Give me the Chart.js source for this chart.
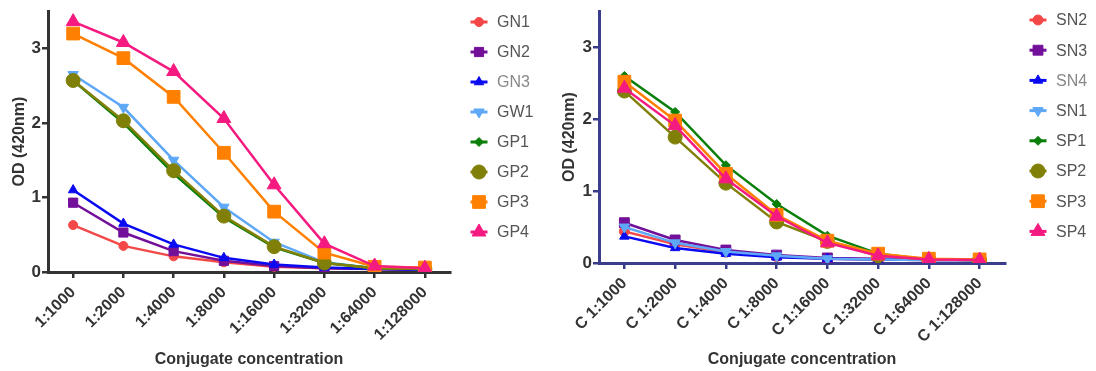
<!DOCTYPE html>
<html>
<head>
<meta charset="utf-8">
<script src="https://cdn.jsdelivr.net/npm/chart.js"></script>
<style>
  body { margin: 0; background: #fff; }
  .box { position: absolute; top: 0; height: 371px; }
  #left { left: 0; width: 550px; }
  #right { left: 550px; width: 546px; }
</style>
</head>
<body>
<div class="box" id="left"><canvas id="chartG"></canvas></div>
<div class="box" id="right"><canvas id="chartS"></canvas></div>
<script>
// dilutions
const gLabels = ["1:1000", "1:2000", "1:4000", "1:8000", "1:16000", "1:32000", "1:64000", "1:128000"];
const sLabels = ["C 1:1000", "C 1:2000", "C 1:4000", "C 1:8000", "C 1:16000", "C 1:32000", "C 1:64000", "C 1:128000"];
const yTicks = [0, 1, 2, 3];

// left panel (OD 420nm)
const GN1 = [0.63, 0.35, 0.21, 0.13, 0.07, 0.05, 0.04, 0.03];
const GN2 = [0.93, 0.53, 0.28, 0.15, 0.08, 0.05, 0.04, 0.03];
const GN3 = [1.10, 0.65, 0.37, 0.19, 0.10, 0.06, 0.04, 0.03];
const GW1 = [2.65, 2.21, 1.50, 0.87, 0.40, 0.13, 0.05, 0.04];
const GP1 = [2.57, 2.00, 1.32, 0.73, 0.33, 0.12, 0.05, 0.04];
const GP2 = [2.57, 2.03, 1.36, 0.75, 0.34, 0.12, 0.05, 0.04];
const GP3 = [3.20, 2.87, 2.35, 1.60, 0.81, 0.26, 0.07, 0.06];
const GP4 = [3.36, 3.08, 2.69, 2.06, 1.17, 0.38, 0.08, 0.05];

// right panel
const SN2 = [0.44, 0.26, 0.15, 0.09, 0.06, 0.05, 0.04, 0.04];
const SN3 = [0.56, 0.32, 0.18, 0.11, 0.07, 0.06, 0.05, 0.04];
const SN4 = [0.37, 0.21, 0.13, 0.08, 0.06, 0.05, 0.04, 0.04];
const SN1 = [0.50, 0.28, 0.16, 0.10, 0.06, 0.05, 0.04, 0.04];
const SP1 = [2.60, 2.10, 1.36, 0.82, 0.38, 0.13, 0.05, 0.04];
const SP2 = [2.39, 1.75, 1.11, 0.57, 0.30, 0.10, 0.05, 0.04];
const SP3 = [2.52, 1.98, 1.24, 0.67, 0.31, 0.13, 0.06, 0.05];
const SP4 = [2.43, 1.91, 1.17, 0.65, 0.28, 0.10, 0.05, 0.04];

const FONT = "'Liberation Sans', Arial, sans-serif";

function series(label, data, color, style, radius, rotation, textColor) {
  return {
    label: label,
    data: data,
    borderColor: color,
    backgroundColor: color,
    pointBackgroundColor: color,
    pointBorderColor: color,
    pointBorderWidth: 1,
    pointStyle: style,
    pointRotation: rotation || 0,
    pointRadius: radius,
    pointHoverRadius: radius,
    borderWidth: 2.5,
    tension: 0,
    fill: false,
    legendText: textColor || "#555"
  };
}

// legend drawn as line + symbol, like the original
const lineLegend = {
  id: "lineLegend",
  afterDraw(chart, args, opts) {
    const ctx = chart.ctx;
    chart.data.datasets.forEach((ds, i) => {
      const y = opts.top + i * opts.step;
      ctx.save();
      ctx.strokeStyle = ds.borderColor;
      ctx.lineWidth = 3;
      ctx.beginPath();
      ctx.moveTo(opts.x - 8.5, y);
      ctx.lineTo(opts.x + 8.5, y);
      ctx.stroke();
      ctx.fillStyle = ds.pointBackgroundColor;
      ctx.lineWidth = 1;
      Chart.helpers.drawPoint(ctx, {
        pointStyle: ds.pointStyle, rotation: ds.pointRotation,
        radius: ds.pointRadius, borderWidth: 1
      }, opts.x, y);
      ctx.fillStyle = ds.legendText;
      ctx.font = "16px " + FONT;
      ctx.textBaseline = "middle";
      ctx.fillText(ds.label, opts.textX, y + 1);
      ctx.restore();
    });
  }
};

function options(axisColor, yWidth, xHeight, padRight, legend) {
  return {
    responsive: true,
    maintainAspectRatio: false,
    animation: false,
    layout: { padding: { top: 8, right: padRight, left: 0, bottom: 0 } },
    plugins: {
      legend: { display: false },
      tooltip: { enabled: false },
      lineLegend: legend
    },
    scales: {
      x: {
        type: "category",
        offset: true,
        grid: { display: true, drawOnChartArea: false, drawTicks: true, tickLength: 6, color: axisColor, lineWidth: 2.5 },
        border: { display: true, color: axisColor, width: 3 },
        ticks: {
          autoSkip: false, maxRotation: 45, minRotation: 45, padding: 5,
          color: "#333", font: { family: FONT, size: 16, weight: "bold" }
        },
        title: {
          display: true, text: "Conjugate concentration", color: "#333",
          font: { family: FONT, size: 16, weight: "bold" }, padding: { top: 0, bottom: 2 }
        },
        afterFit: s => { s.height = xHeight; }
      },
      y: {
        min: 0,
        max: 3.5,
        grid: { display: true, drawOnChartArea: false, drawTicks: true, tickLength: 6, color: axisColor, lineWidth: 2.5 },
        border: { display: true, color: axisColor, width: 3 },
        afterBuildTicks: s => { s.ticks = yTicks.map(v => ({ value: v })); },
        ticks: {
          padding: 1, color: "#333", font: { family: FONT, size: 17, weight: "bold" }
        },
        title: {
          display: true, text: "OD (420nm)", color: "#333",
          font: { family: FONT, size: 16, weight: "bold" }, padding: { top: 10, bottom: 0 }
        },
        afterFit: s => { s.width = yWidth; }
      }
    }
  };
}

const red = "#f44848", purple = "#73109a", blue = "#0a0af2", sky = "#5ea8f7",
      green = "#0a7f0a", olive = "#808008", orange = "#ff8000", pink = "#f51a80";

function ordered(list) {
  // later series sit on top, as in the original
  list.forEach((d, i) => { d.order = list.length - i; });
  return list;
}

new Chart(document.getElementById("chartG"), {
  type: "line",
  data: {
    labels: gLabels,
    datasets: ordered([
      series("GN1", GN1, red, "circle", 4.5),
      series("GN2", GN2, purple, "rect", 6.5),
      series("GN3", GN3, blue, "triangle", 5.5, 0, "#888"),
      series("GW1", GW1, sky, "triangle", 6, 180),
      series("GP1", GP1, green, "rectRot", 4.5),
      series("GP2", GP2, olive, "circle", 7),
      series("GP3", GP3, orange, "rect", 9),
      series("GP4", GP4, pink, "triangle", 8)
    ])
  },
  options: options("#333", 48, 99, 100, { x: 479, textX: 497, top: 22, step: 30 }),
  plugins: [lineLegend]
});

new Chart(document.getElementById("chartS"), {
  type: "line",
  data: {
    labels: sLabels,
    datasets: ordered([
      series("SN2", SN2, red, "circle", 5),
      series("SN3", SN3, purple, "rect", 7),
      series("SN4", SN4, blue, "triangle", 5.5, 0, "#888"),
      series("SN1", SN1, sky, "triangle", 6, 180),
      series("SP1", SP1, green, "rectRot", 4.5),
      series("SP2", SP2, olive, "circle", 7),
      series("SP3", SP3, orange, "rect", 9),
      series("SP4", SP4, pink, "triangle", 8)
    ])
  },
  options: options("#3a3d8c", 49, 108, 91, { x: 488, textX: 506, top: 20, step: 30.2 }),
  plugins: [lineLegend]
});
</script>
</body>
</html>
